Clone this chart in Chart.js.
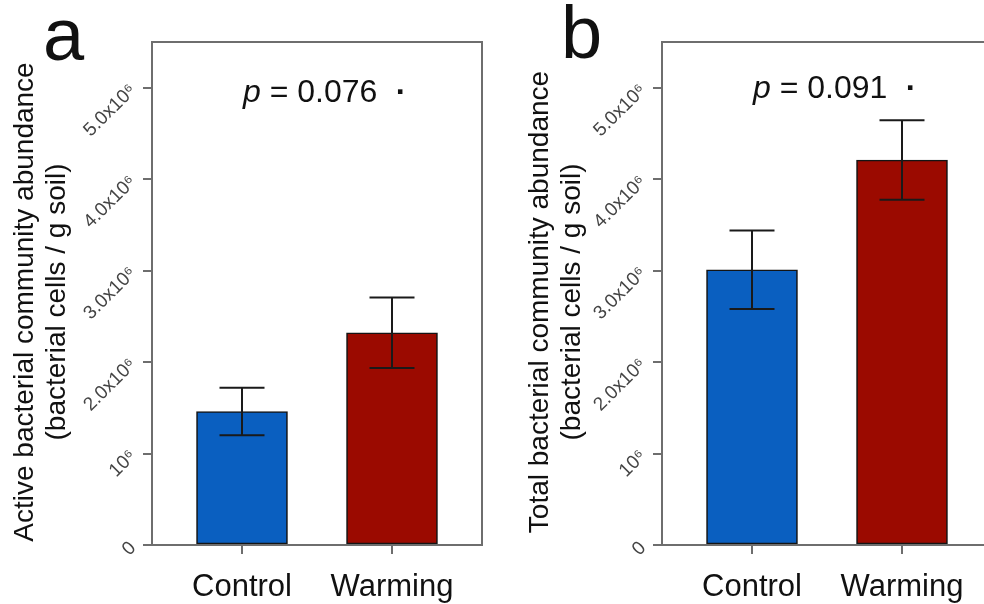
<!DOCTYPE html>
<html><head><meta charset="utf-8">
<script src="https://cdn.jsdelivr.net/npm/chart.js@4"></script>
<style>
html,body{margin:0;padding:0;background:#fff;overflow:hidden;width:984px;height:604px;}
#wrap{position:relative;width:984px;height:604px;overflow:hidden;background:#fff;}
.pane{position:absolute;top:0;width:492px;height:604px;}
#pa{left:0}
#pb{left:510px}
</style></head><body>
<div id="wrap">
<div class="pane" id="pa"><canvas id="ca" width="492" height="604"></canvas></div>
<div class="pane" id="pb"><canvas id="cb" width="492" height="604"></canvas></div>
</div>
<script>
const categories = ['Control', 'Warming'];
const barColors = ['#0a5fc0', '#9b0a00'];
const activeMeans = [1.46e6, 2.32e6];
const activeErrors = [0.26e6, 0.385e6];
const totalMeans = [3.01e6, 4.21e6];
const totalErrors = [0.43e6, 0.435e6];
const yTickValues = [0, 1e6, 2e6, 3e6, 4e6, 5e6];
const yTickLabels = ['0', '10⁶', '2.0x10⁶', '3.0x10⁶', '4.0x10⁶', '5.0x10⁶'];
const yMax = 5.5e6;
const pValueA = '0.076';
const pValueB = '0.091';
const titleA = ['Active bacterial community abundance', '(bacterial cells / g soil)'];
const titleB = ['Total bacterial community abundance', '(bacterial cells / g soil)'];

Chart.defaults.font.family = "'Liberation Sans', Arial, sans-serif";
const AXIS = '#6e6e6e';
const FONT = "'Liberation Sans', Arial, sans-serif";

const decor = {
  id: 'decor',
  afterDatasetsDraw(chart, args, o) {
    const {ctx, scales: {x, y}} = chart;
    ctx.save();
    ctx.strokeStyle = '#1a1a1a';
    ctx.lineWidth = 2;
    o.means.forEach((m, i) => {
      const px = x.getPixelForValue(i);
      const top = y.getPixelForValue(m + o.errors[i]);
      const bot = y.getPixelForValue(m - o.errors[i]);
      ctx.beginPath();
      ctx.moveTo(px, top); ctx.lineTo(px, bot);
      ctx.moveTo(px - 22.5, top); ctx.lineTo(px + 22.5, top);
      ctx.moveTo(px - 22.5, bot); ctx.lineTo(px + 22.5, bot);
      ctx.stroke();
    });
    ctx.restore();
  },
  afterDraw(chart, args, o) {
    const {ctx, chartArea: a} = chart;
    ctx.save();
    ctx.strokeStyle = AXIS;
    ctx.lineWidth = 2;
    ctx.strokeRect(a.left, a.top, a.right - a.left, a.bottom - a.top);
    ctx.fillStyle = '#111';
    ctx.textBaseline = 'alphabetic';
    ctx.textAlign = 'left';
    let px = a.left + 91;
    ctx.font = 'italic 32px ' + FONT;
    ctx.fillText('p', px, o.pBase);
    px += ctx.measureText('p').width;
    ctx.font = '32px ' + FONT;
    ctx.fillText(' = ' + o.pValue, px, o.pBase);
    ctx.textAlign = 'center';
    ctx.font = 'bold 32px ' + FONT;
    ctx.fillText('·', a.left + 249, o.pBase);
    ctx.textAlign = 'left';
    ctx.font = '74px ' + FONT;
    ctx.fillText(o.letter, o.letterX, o.letterY);
    ctx.font = '28px ' + FONT;
    ctx.textAlign = 'center';
    ctx.textBaseline = 'middle';
    o.title.forEach((t, i) => {
      ctx.save();
      ctx.translate(o.titleX[i], o.titleY);
      ctx.rotate(-Math.PI / 2);
      ctx.fillText(t, 0, 0);
      ctx.restore();
    });
    ctx.restore();
  }
};

function makeChart(id, means, errors, extra) {
  return new Chart(document.getElementById(id), {
    type: 'bar',
    data: {
      datasets: [{
        data: means.map((m, i) => ({x: i, y: m})),
        backgroundColor: barColors,
        borderColor: '#141414',
        borderWidth: 1.6,
        borderSkipped: false,
        barThickness: 91
      }]
    },
    options: {
      responsive: false,
      animation: false,
      events: [],
      layout: {padding: {top: 42, right: 10, bottom: 0, left: 0}},
      plugins: {
        legend: {display: false},
        tooltip: {enabled: false},
        decor: Object.assign({means: means, errors: errors}, extra)
      },
      scales: {
        x: {
          type: 'linear', min: -0.6, max: 1.6, offset: false,
          afterBuildTicks: s => { s.ticks = categories.map((c, i) => ({value: i})); },
          afterFit: s => { s.height = 59; },
          grid: {offset: false, drawOnChartArea: false, drawTicks: true, tickLength: 9, color: AXIS, lineWidth: 2},
          border: {display: true, color: AXIS, width: 2},
          ticks: {autoSkip: false, minRotation: 0, maxRotation: 0, padding: 15, color: '#111',
                  font: {size: 31}, callback: v => categories[v]}
        },
        y: {
          type: 'linear', min: 0, max: yMax,
          afterBuildTicks: s => { s.ticks = yTickValues.map(v => ({value: v})); },
          afterFit: s => { s.width = 152; },
          grid: {drawOnChartArea: false, drawTicks: true, tickLength: 9, color: AXIS, lineWidth: 2},
          border: {display: true, color: AXIS, width: 2},
          ticks: {autoSkip: false, minRotation: 45, maxRotation: 45, padding: 10, color: '#444',
                  font: {size: 19}, callback: v => yTickLabels[yTickValues.indexOf(v)]}
        }
      }
    },
    plugins: [decor]
  });
}

makeChart('ca', activeMeans, activeErrors,
  {pValue: pValueA, pBase: 102, letter: 'a', letterX: 43, letterY: 60, title: titleA, titleX: [25, 57], titleY: 302});
makeChart('cb', totalMeans, totalErrors,
  {pValue: pValueB, pBase: 98, letter: 'b', letterX: 51, letterY: 58, title: titleB, titleX: [30, 62], titleY: 302});
</script>
</body></html>
